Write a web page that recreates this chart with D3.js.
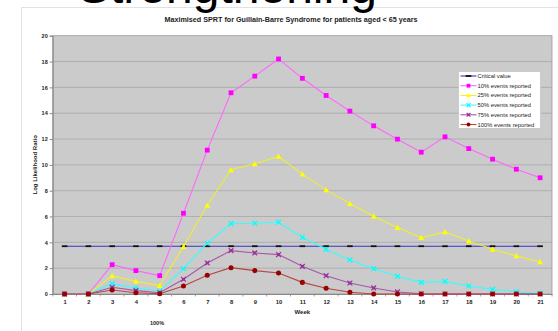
<!DOCTYPE html>
<html><head><meta charset="utf-8">
<script src="https://cdn.jsdelivr.net/npm/d3@7"></script>
<style>body{margin:0;background:#fff;overflow:hidden}svg{display:block;font-family:"Liberation Sans",Arial,sans-serif}</style>
</head><body>
<script>
const weeks = d3.range(1, 22).map(String);
const yTicks = [0,2,4,6,8,10,12,14,16,18,20];
const criticalValue = weeks.map(() => 3.7);
const p10  = [0,0,2.27,1.81,1.42,6.25,11.14,15.58,16.87,18.2,16.7,15.37,14.16,13.02,11.99,10.98,12.17,11.26,10.44,9.66,9.0];
const p25  = [0,0,1.40,0.98,0.65,3.67,6.87,9.62,10.08,10.65,9.28,8.06,7.0,6.02,5.14,4.37,4.81,4.11,3.46,2.95,2.48];
const p50  = [0,0,0.80,0.44,0.23,1.96,3.93,5.45,5.48,5.56,4.39,3.46,2.64,1.96,1.37,0.90,0.98,0.62,0.36,0.16,0.05];
const p75  = [0,0,0.52,0.26,0.10,1.14,2.40,3.36,3.18,3.05,2.14,1.42,0.85,0.47,0.16,0.02,0,0,0,0,0];
const p100 = [0,0,0.31,0.10,0.02,0.62,1.45,2.04,1.81,1.63,0.90,0.44,0.13,0,0,0,0,0,0,0,0];
const seriesNames = ["Critical value","10% events reported","25% events reported","50% events reported","75% events reported","100% events reported"];

const series = [
  {name: seriesNames[0], values: criticalValue, line:"#3333cc", fill:"#111", marker:"dash"},
  {name: seriesNames[1], values: p10, line:"#ff66ff", fill:"#ff00ff", marker:"square"},
  {name: seriesNames[2], values: p25, line:"#eeee33", fill:"#ffff00", marker:"triangle"},
  {name: seriesNames[3], values: p50, line:"#33ffff", fill:"#00ffff", marker:"x"},
  {name: seriesNames[4], values: p75, line:"#aa55aa", fill:"#993399", marker:"xsq"},
  {name: seriesNames[5], values: p100, line:"#bb4444", fill:"#990000", marker:"circle"}
];

const W = 558, H = 331;
const svg = d3.select("body").append("svg").attr("width", W).attr("height", H);

// card
svg.append("rect").attr("x", 21.5).attr("y", 7.5).attr("width", 600).attr("height", 400)
  .attr("fill", "#fff").attr("stroke", "#e2e2e2");

// Slide heading (cut off at top, as in the reference)
svg.append("text").attr("x", 78).attr("y", 3).attr("font-size", 48).attr("fill", "#000")
  .text("Strengthening");

const plot = {l: 52.7, r: 552, t: 35.7, b: 294};
const x = d3.scalePoint().domain(weeks).range([plot.l, plot.r]).padding(0.5);
const y = d3.scaleLinear().domain([0, 20]).range([plot.b, plot.t]);

svg.append("text").attr("x", 291).attr("y", 22).attr("text-anchor", "middle")
  .attr("font-size", 7.2).attr("font-weight", "bold").attr("fill", "#222")
  .text("Maximised SPRT for Guillain-Barre Syndrome for patients aged < 65 years");

svg.append("rect").attr("x", plot.l).attr("y", plot.t).attr("width", plot.r - plot.l).attr("height", plot.b - plot.t)
  .attr("fill", "#cbcbcb").attr("stroke", "#9a9a9a").attr("stroke-width", 0.8);

// gridlines
svg.append("g").selectAll("line").data(yTicks.filter(d => d > 0 && d < 20)).join("line")
  .attr("x1", plot.l).attr("x2", plot.r).attr("y1", d => y(d)).attr("y2", d => y(d))
  .attr("stroke", "#ababab").attr("stroke-width", 0.9);

// y axis
const yAxis = svg.append("g").attr("transform", `translate(${plot.l},0)`)
  .call(d3.axisLeft(y).tickValues(yTicks).tickSize(3).tickPadding(2));
yAxis.select(".domain").attr("stroke", "#888");
yAxis.selectAll(".tick line").attr("stroke", "#888");
yAxis.selectAll("text").attr("font-size", 5.5).attr("font-weight", "bold").attr("fill", "#222");

// x axis
const xAxis = svg.append("g").attr("transform", `translate(0,${plot.b})`)
  .call(d3.axisBottom(x).tickSize(0).tickPadding(6));
xAxis.select(".domain").attr("stroke", "#888");
xAxis.selectAll("text").attr("font-size", 5.8).attr("font-weight", "bold").attr("fill", "#222");
const step = x.step();
svg.append("g").selectAll("line").data(d3.range(0, weeks.length + 1)).join("line")
  .attr("x1", i => plot.l + i * step).attr("x2", i => plot.l + i * step)
  .attr("y1", plot.b).attr("y2", plot.b + 2.5).attr("stroke", "#888").attr("stroke-width", 0.8);

svg.append("text").attr("x", (plot.l + plot.r) / 2).attr("y", 314).attr("text-anchor", "middle")
  .attr("font-size", 6).attr("font-weight", "bold").attr("fill", "#222").text("Week");
svg.append("text").attr("transform", `translate(37,${(plot.t + plot.b) / 2}) rotate(-90)`)
  .attr("text-anchor", "middle").attr("font-size", 6).attr("font-weight", "bold").attr("fill", "#222")
  .text("Log Likelihood Ratio");
svg.append("text").attr("x", 157).attr("y", 325).attr("text-anchor", "middle")
  .attr("font-size", 5.5).attr("font-weight", "bold").attr("fill", "#222").text("100%");

function drawMarker(g, type, fill, cx, cy, s) {
  if (type === "square") {
    g.append("rect").attr("x", cx - s).attr("y", cy - s).attr("width", 2 * s).attr("height", 2 * s).attr("fill", fill);
  } else if (type === "triangle") {
    g.append("path").attr("d", `M${cx},${cy - s * 1.2}L${cx + s * 1.2},${cy + s}L${cx - s * 1.2},${cy + s}Z`).attr("fill", fill);
  } else if (type === "circle") {
    g.append("circle").attr("cx", cx).attr("cy", cy).attr("r", s * 1.05).attr("fill", fill);
  } else if (type === "x" || type === "xsq") {
    g.append("path").attr("d", `M${cx - s},${cy - s}L${cx + s},${cy + s}M${cx - s},${cy + s}L${cx + s},${cy - s}`)
      .attr("stroke", fill).attr("stroke-width", 1.2);
    if (type === "xsq") g.append("rect").attr("x", cx - s * 0.6).attr("y", cy - s * 0.6).attr("width", s * 1.2).attr("height", s * 1.2).attr("fill", fill);
  } else if (type === "dash") {
    g.append("rect").attr("x", cx - 2.8).attr("y", cy - 0.9).attr("width", 5.6).attr("height", 1.8).attr("fill", fill);
  }
}

const line = d3.line().x((d, i) => x(weeks[i])).y(d => y(d));
series.forEach(s => {
  const g = svg.append("g");
  g.append("path").datum(s.values).attr("d", line).attr("fill", "none").attr("stroke", s.line).attr("stroke-width", 1.1);
  s.values.forEach((v, i) => drawMarker(g, s.marker, s.fill, x(weeks[i]), y(v), 2.4));
});

// legend
const lg = svg.append("g").attr("transform", "translate(458.5,71.5)");
lg.append("rect").attr("width", 82).attr("height", 57).attr("fill", "#fff").attr("stroke", "#bbb").attr("stroke-width", 0.6);
series.forEach((s, i) => {
  const yy = 4.5 + i * 9.7;
  lg.append("line").attr("x1", 2).attr("x2", 18).attr("y1", yy).attr("y2", yy).attr("stroke", s.line).attr("stroke-width", 1.1);
  drawMarker(lg, s.marker, s.fill, 10, yy, 1.9);
  lg.append("text").attr("x", 19).attr("y", yy + 2).attr("font-size", 5.8).attr("fill", "#222").text(s.name);
});
</script>
</body></html>
